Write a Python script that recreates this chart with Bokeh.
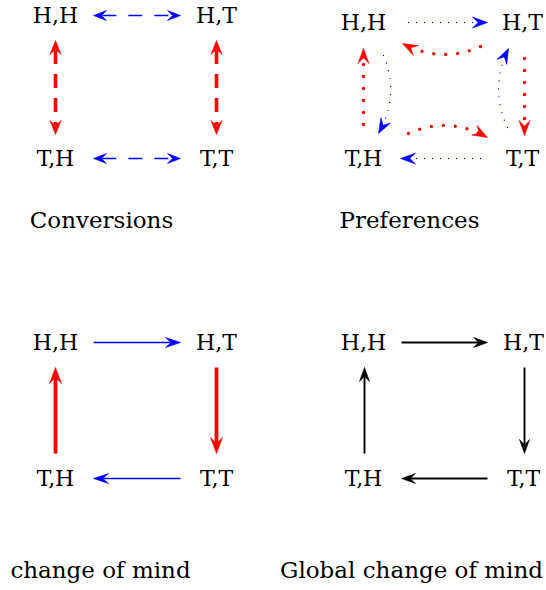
import numpy as np
from bokeh.plotting import figure
from bokeh.models import Range1d
from bokeh.embed import file_html
from bokeh.resources import INLINE
from bokeh.core.properties import value

# ---------------- data ----------------
node_labels = ["H,H", "H,T", "T,H", "T,T"]
panel_titles = ["Conversions", "Preferences", "change of mind", "Global change of mind"]
# node centres (page pixels) per panel, order = node_labels
panel_node_x = [[55, 216, 55, 216], [363, 522, 363, 522], [55, 216, 55, 216], [363, 523, 363, 523]]
panel_node_y = [[15, 15, 158, 158], [22, 22, 158, 158], [342, 342, 478, 478], [342, 342, 478, 478]]

# edges: panel, source node, target node, style, two-headed
edge_panel = [0, 0, 0, 0,   1, 1, 1, 1, 1, 1, 1, 1,   2, 2, 2, 2,   3, 3, 3, 3]
edge_src   = [0, 2, 0, 1,   0, 1, 0, 2, 2, 1, 3, 3,   0, 1, 3, 2,   0, 1, 3, 2]
edge_dst   = [1, 3, 2, 3,   1, 0, 2, 0, 3, 3, 1, 2,   1, 3, 2, 0,   1, 3, 2, 0]
edge_style = ["blue_dash", "blue_dash", "red_dash", "red_dash",
              "blue_dot", "red_dot", "blue_dot", "red_dot", "red_dot", "red_dot", "blue_dot", "blue_dot",
              "blue", "red", "blue", "red",
              "black", "black", "black", "black"]
edge_both  = [True, True, True, True] + [False] * 16

# ---------------- geometry / styling ----------------
# start / end offsets from node centres, and curve bulge (pixels)
edge_geom = [
    ((38, 0), (-36, 0), None), ((38, 0), (-36, 0), None),
    ((0, 25), (0, -24), None), ((0, 25), (0, -24), None),
    ((45, 0), (-35, 0), None),
    ((-42, 24), (39, 21), (0, 9.5)),
    ((20, 33), (15, -25), (9.5, 0)),
    ((0, -34), (0, 26), None),
    ((45, -25), (-35, -21), (0, -10)),
    ((2, 36), (2, -23), None),
    ((-15, -31), (-14, 26), (-9.5, 0)),
    ((-42, 0), (37, 0), None),
    ((38, 0), (-36, 0), None), ((0, 25), (0, -25), None),
    ((-36, 0), (38, 0), None), ((0, -25), (0, 25), None),
    ((38, 0), (-36, 0), None), ((1, 25), (1, -25), None),
    ((-36, 0), (38, 0), None), ((1, -25), (1, 25), None),
]

styles = {
    "blue_dash": dict(color="#0000FF", width=1.7, dash="14 12", cap="butt", L=13, W=10),
    "red_dash": dict(color="#FF0000", width=3.6, dash="14 10", cap="butt", L=14, W=11),
    "blue_dot": dict(color="#0000FF", width=1.3, dash="0 8", cap="round", L=15, W=11),
    "red_dot": dict(color="#FF0000", width=3.4, dash="0 12", cap="round", L=15, W=11),
    "blue": dict(color="#0000FF", width=1.7, dash="solid", cap="butt", L=15, W=10),
    "red": dict(color="#FF0000", width=3.8, dash="solid", cap="butt", L=16, W=12),
    "black": dict(color="#000000", width=1.9, dash="solid", cap="butt", L=14, W=10),
}

FONT = value("DejaVu Serif")
TEXT_SHIFT = -7.5  # compensate rendered baseline offset

p = figure(width=546, height=590, x_range=Range1d(0, 546), y_range=Range1d(590, 0),
           output_backend="svg", toolbar_location=None, min_border=0,
           x_axis_type=None, y_axis_type=None)
p.grid.visible = False
p.outline_line_color = None
p.background_fill_color = "white"
p.border_fill_color = "white"


def head(tip, u, L, W):
    n = np.array([-u[1], u[0]])
    pts = [tip, tip - L * u + W / 2 * n, tip - 0.62 * L * u, tip - L * u - W / 2 * n]
    return [q[0] for q in pts], [q[1] for q in pts]


for i in range(len(edge_panel)):
    pn = edge_panel[i]
    st = styles[edge_style[i]]
    (sdx, sdy), (edx, edy), bulge = edge_geom[i]
    a = np.array([panel_node_x[pn][edge_src[i]] + sdx, panel_node_y[pn][edge_src[i]] + sdy], float)
    b = np.array([panel_node_x[pn][edge_dst[i]] + edx, panel_node_y[pn][edge_dst[i]] + edy], float)
    if bulge is None:
        ctrl = (a + b) / 2
    else:
        ctrl = (a + b) / 2 + 2 * np.array(bulge, float)
    t = np.linspace(0, 1, 80)[:, None]
    curve = (1 - t) ** 2 * a + 2 * (1 - t) * t * ctrl + t ** 2 * b
    ue = b - ctrl if bulge is not None else b - a
    ue = ue / np.linalg.norm(ue)
    us = a - ctrl if bulge is not None else a - b
    us = us / np.linalg.norm(us)
    cut = 0.6 * st["L"]
    keep = np.linalg.norm(curve - b, axis=1) >= cut
    if edge_both[i]:
        keep &= np.linalg.norm(curve - a, axis=1) >= cut
    seg = curve[keep]
    p.line(seg[:, 0], seg[:, 1], line_color=st["color"], line_width=st["width"],
           line_dash=st["dash"], line_cap=st["cap"])
    hx, hy = head(b, ue, st["L"], st["W"])
    heads_x, heads_y = [hx], [hy]
    if edge_both[i]:
        hx2, hy2 = head(a, us, st["L"], st["W"])
        heads_x.append(hx2)
        heads_y.append(hy2)
    p.patches(heads_x, heads_y, fill_color=st["color"], line_color=st["color"], line_width=0.6)

# node labels
lx, ly, lt = [], [], []
for pn in range(4):
    for k in range(4):
        lx.append(panel_node_x[pn][k])
        ly.append(panel_node_y[pn][k] + 7.7 + TEXT_SHIFT)
        lt.append(node_labels[k])
p.text(x=lx, y=ly, text=lt, text_font=FONT, text_font_size="22px",
       text_align="center", text_baseline="alphabetic", text_color="black")

# captions
title_x = [101, 409, 100, 411]
title_y = [226.5 + TEXT_SHIFT, 226.5 + TEXT_SHIFT, 577 + TEXT_SHIFT, 577 + TEXT_SHIFT]
p.text(x=title_x, y=title_y, text=panel_titles, text_font=FONT, text_font_size="23px",
       text_align="center", text_baseline="alphabetic", text_color="black")

open("out.html", "w").write(file_html(p, INLINE))
